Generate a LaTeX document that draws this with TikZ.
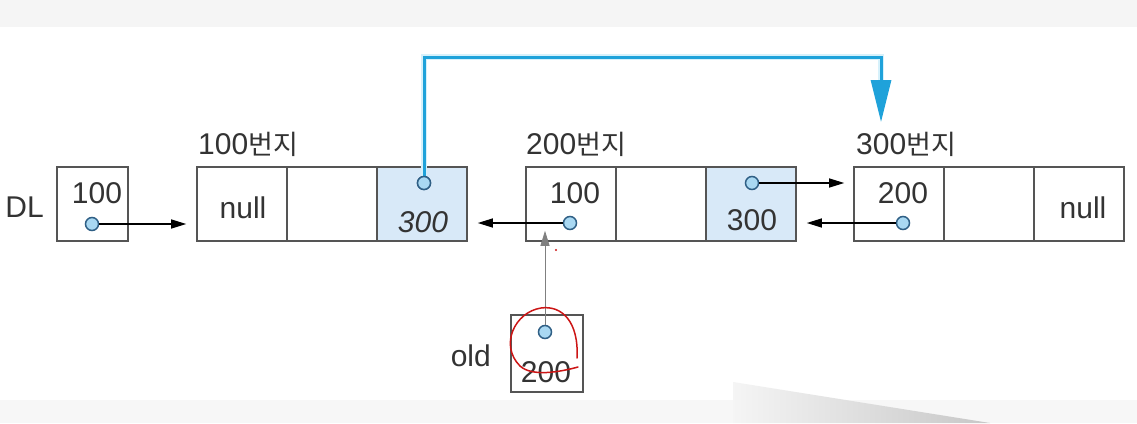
\documentclass[tikz,border=0pt]{standalone}
\usepackage{fontspec}
\setmainfont{Liberation Sans}
\newfontfamily\kr{Noto Sans CJK KR}
\usetikzlibrary{arrows.meta}
\definecolor{boxline}{HTML}{555555}
\definecolor{shadecell}{HTML}{D8E9F8}
\definecolor{dotfill}{HTML}{A9D8F2}
\definecolor{dotline}{HTML}{2F5F85}
\definecolor{bluelink}{HTML}{1FA2DA}
\definecolor{blueglow}{HTML}{D6F1FB}
\definecolor{scribble}{HTML}{CC1515}
\tikzset{
  cell/.style={draw=boxline, line width=1.6pt, minimum width=90pt, minimum height=74pt, inner sep=0pt, anchor=center},
  pcell/.style={cell, fill=shadecell},
  ptrbox/.style={draw=boxline, line width=1.6pt, inner sep=0pt},
  dot/.style={circle, draw=dotline, fill=dotfill, line width=1.5pt, minimum size=13pt, inner sep=0pt},
  txt/.style={font=\fontsize{30}{34}\selectfont, text=black!80, inner sep=0pt},
  lbl/.style={font=\fontsize{30}{34}\selectfont, text=black!80, inner sep=0pt},
  arr/.style={black, line width=1.3pt, -{Triangle[length=15pt,width=9pt]}},
  grayarr/.style={black!50, line width=0.9pt, -{Triangle[length=15pt,width=9pt]}},
  bluearr/.style={bluelink, line width=3pt, -{Triangle[length=42pt,width=20pt]}},
}
\begin{document}
\begin{tikzpicture}[x=1pt,y=-1pt]
\useasboundingbox (0,0) rectangle (1137,423);
% background
\fill[white] (0,0) rectangle (1137,423);
\fill[black!4] (0,0) rectangle (1137,27);
\fill[black!3] (0,400) rectangle (1137,423);
\shade[left color=black!4, right color=black!22] (733,382) -- (990,423) -- (733,423) -- cycle;

% DL pointer
\node[ptrbox, minimum width=71pt, minimum height=74pt] (dl) at (92.5,204) {};
\node[lbl, anchor=east] (dllbl) at (44,207) {DL};
\node[txt] (dlval) at (97,193) {100};
\node[dot] (dld) at (92,224) {};

% node at 100
\node[cell] (n1a) at (242,204) {};
\node[cell] (n1b) at (332,204) {};
\node[pcell] (n1c) at (422,204) {};
\node[lbl, anchor=base west] (n1lbl) at (198,154) {100{\kr\fontsize{27}{30}\selectfont 번지}};
\node[txt] (n1null) at (243,208) {null};
\node[txt, font=\fontsize{30}{34}\selectfont\itshape] (n1val) at (423,222) {300};
\node[dot] (n1d) at (424,183) {};

% node at 200
\node[cell] (n2a) at (571,204) {};
\node[cell] (n2b) at (661,204) {};
\node[pcell] (n2c) at (751,204) {};
\node[lbl, anchor=base west] (n2lbl) at (526,154) {200{\kr\fontsize{27}{30}\selectfont 번지}};
\node[txt] (n2val) at (575,193) {100};
\node[dot] (n2d) at (570,223) {};
\node[txt] (n2rval) at (752,220) {300};
\node[dot] (n2rd) at (752,183) {};

% node at 300
\node[cell] (n3a) at (899,204) {};
\node[cell] (n3b) at (989,204) {};
\node[cell] (n3c) at (1079,204) {};
\node[lbl, anchor=base west] (n3lbl) at (856,154) {300{\kr\fontsize{27}{30}\selectfont 번지}};
\node[txt] (n3val) at (903,193) {200};
\node[dot] (n3d) at (903,223) {};
\node[txt] (n3null) at (1083,208) {null};

% old pointer
\node[ptrbox, minimum width=72pt, minimum height=77pt] (old) at (547,353.5) {};
\node[lbl, anchor=east] (oldlbl) at (491,356) {old};
\node[txt] (oldval) at (546,372) {200};
\node[dot] (oldd) at (545,332) {};

% connectors
\draw[arr] (dld) -- ([xshift=-10pt]dld.center -| n1a.west);
\draw[arr] (n2d) -- ([xshift=10pt]n2d.center -| n1c.east);
\draw[arr] (n2rd) -- ([xshift=-9pt]n2rd.center -| n3a.west);
\draw[arr] (n3d) -- ([xshift=10pt]n3d.center -| n2c.east);
\draw[grayarr] (oldd) -- ([yshift=11pt]oldd.center |- n2a.south);

\coordinate (bt1) at (424,57);
\coordinate (bt2) at (881,57);
\coordinate (btend) at (881,122);
\draw[blueglow, line width=6pt, line join=miter] (n1d.north) -- (bt1) -- (bt2) -- (881,80);
\draw[bluearr, line join=miter] (n1d.north) -- (bt1) -- (bt2) -- (btend);
\node[dot] at (n1d) {};

% red annotation
\draw[scribble, line width=1.5pt, line cap=round]
  (577,358) .. controls (579,322) and (562,305) .. (541,308)
  .. controls (515,312) and (499,345) .. (520,366)
  .. controls (532,377) and (560,372) .. (578,367);
\fill[scribble] (556,250) circle (1.2pt);
\end{tikzpicture}
\end{document}
